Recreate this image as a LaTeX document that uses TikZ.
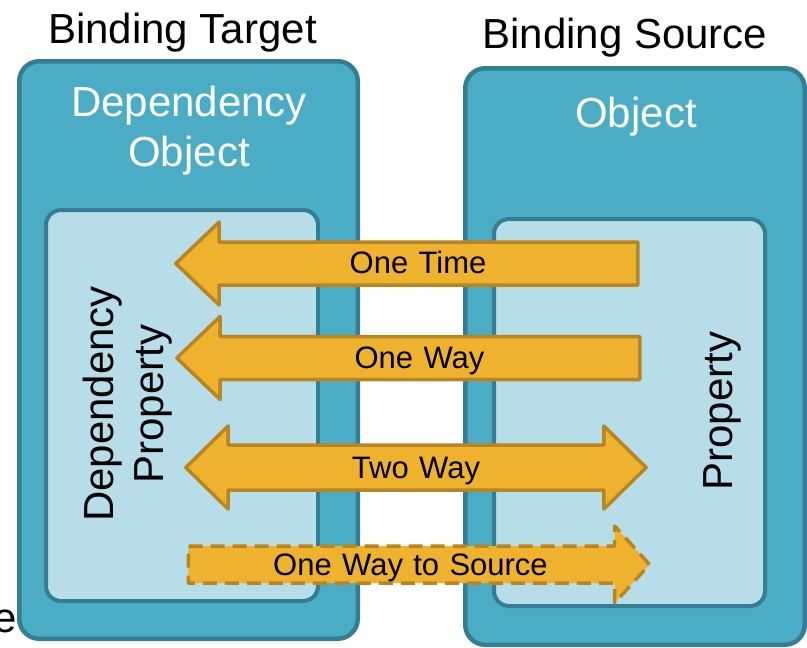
\documentclass[tikz,border=0pt]{standalone}
\usepackage{fontspec}
\setmainfont{Liberation Sans}
\usetikzlibrary{shapes.arrows, positioning}

\definecolor{boxblue}{RGB}{75,172,198}
\definecolor{boxedge}{RGB}{53,126,146}
\definecolor{propblue}{RGB}{183,222,232}
\definecolor{arrowgold}{RGB}{239,178,46}
\definecolor{arrowedge}{RGB}{183,134,34}

\begin{document}
\begin{tikzpicture}[x=1pt,y=-1pt,
        objbox/.style={draw=boxedge, fill=boxblue, line width=4.5pt, rounded corners=20pt, inner sep=0pt},
        propbox/.style={draw=boxedge, fill=propblue, line width=4pt, rounded corners=15pt, inner sep=0pt},
        bigtext/.style={font=\fontsize{42}{50}\selectfont, align=center, inner sep=0pt},
        flow/.style={draw=arrowedge, fill=arrowgold, line width=3.5pt, line join=round,
            inner sep=0pt, align=center, font=\fontsize{31}{36}\selectfont}]
        \useasboundingbox (0,0) rectangle (807,648);

        % the two objects
        \node[objbox, minimum width=338.5pt, minimum height=577.5pt]   (target)     at (188.5,350)   {};
        \node[objbox, minimum width=339.5pt, minimum height=576.5pt]   (source)     at (635,356.5)   {};
        \node[propbox, minimum width=272pt, minimum height=391pt]      (targetprop) at (182,405.5)   {};
        \node[propbox, minimum width=271pt, minimum height=387pt]      (sourceprop) at (629.5,412.5) {};

        \node[bigtext, anchor=base]              (targetname) at (182.5,43) {Binding Target};
        \node[bigtext, anchor=base]              (sourcename) at (625,48)   {Binding Source};
        \node[bigtext, text=white]               (depobj)     at (189,131)  {Dependency\\Object};
        \node[bigtext, text=white, anchor=base]  (obj)        at (636,127)  {Object};
        \node[bigtext, rotate=90]                (depprop)    at (128,404)  {Dependency\\Property};
        \node[bigtext, rotate=90, anchor=base]   (prop)       at (732,411)  {Property};
        \node[bigtext, anchor=base]              (cutoff)     at (5.5,632)  {e};

        % binding modes
        \node[flow, single arrow, shape border rotate=180, single arrow head extend=20pt,
            single arrow tip angle=87.5, text height=30pt, text depth=9.5pt,
            text width=436pt]  (onetime)  at (418,263.5)   {One Time};
        \node[flow, single arrow, shape border rotate=180, single arrow head extend=20pt,
            single arrow tip angle=87.5, text height=30pt, text depth=9.5pt,
            text width=437pt]  (oneway)   at (419.5,358)   {One Way};
        \node[flow, double arrow, double arrow head extend=19pt,
            double arrow tip angle=89, text height=31.25pt, text depth=10.25pt,
            text width=411pt]  (twoway)   at (416,467.5)   {Two Way};
        \node[flow, single arrow, single arrow head extend=20pt,
            single arrow tip angle=96, text height=27.25pt, text depth=6.25pt,
            dash pattern=on 14pt off 8pt,
            text width=441pt]  (tosource) at (410.5,564.5) {One Way to Source};
    \end{tikzpicture}
\end{document}
